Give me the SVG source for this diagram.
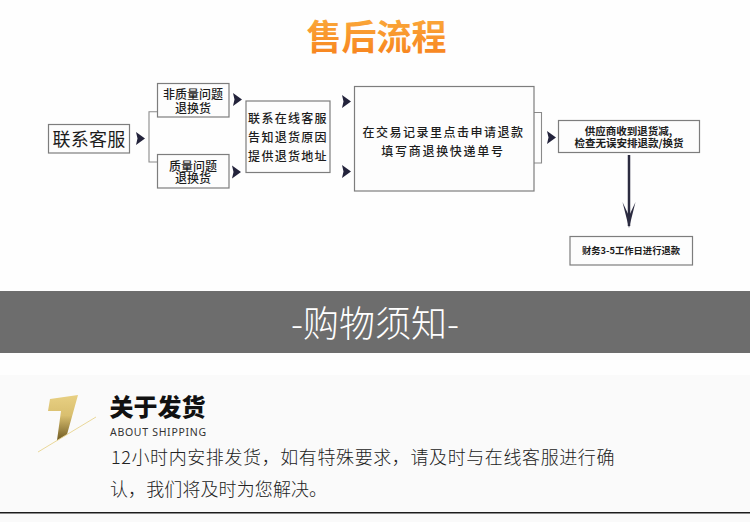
<svg xmlns="http://www.w3.org/2000/svg" width="750" height="522" viewBox="0 0 750 522">
<style>
text{font-family:"Noto Sans CJK SC","Liberation Sans",sans-serif;text-anchor:middle;fill:#1c1c1c}
.box{fill:#fdfdfd;stroke:#7d7d7d;stroke-width:1.2}
.t11{font-size:12px;font-weight:500}
.t10{font-size:10.500px;font-weight:700}
.t9{font-size:9.300px;font-weight:700}
.t12{font-size:12px;font-weight:500;letter-spacing:1.300px}
.para{font-size:18px;font-weight:300;text-anchor:start;fill:#222}
.wire{fill:none;stroke:#8a8a8a;stroke-width:1.1}
.head{fill:#23233b}
</style>
<defs>
<linearGradient id="gold" x1="0" y1="0" x2="0" y2="1"><stop offset="0" stop-color="#e8d083"/><stop offset="0.45" stop-color="#d9bf6f"/><stop offset="1" stop-color="#6f5a22"/></linearGradient>
<linearGradient id="orange" x1="0" y1="0" x2="0" y2="1"><stop offset="0" stop-color="#fbb040"/><stop offset="1" stop-color="#f7801c"/></linearGradient>
<polygon id="tri" points="0,0 9,6.500 0,13 1.500,6.500"/>
</defs>
<rect width="750" height="522" fill="#fefefe"/>
<rect y="291" width="750" height="62" fill="#6d6d6d"/>
<rect y="375" width="750" height="147" fill="#fafafa"/>
<rect y="512" width="750" height="1.500" fill="#1c1c1c"/>
<text x="376.500" y="50" font-size="35" font-weight="700" style="fill:url(#orange)">售后流程</text>
<g id="connectors">
<path class="wire" d="M157 111.700H149V162H157"/>
<path class="wire" d="M534 112.500H541.500V163H534"/>
<use href="#tri" class="head" x="136" y="132"/>
<use href="#tri" class="head" x="233" y="93"/>
<use href="#tri" class="head" x="232" y="165.500"/>
<use href="#tri" class="head" x="342" y="95"/>
<use href="#tri" class="head" x="342" y="165"/>
<use href="#tri" class="head" x="547" y="131"/>
<path d="M629 155V226" stroke="#2b2b40" stroke-width="2.500" fill="none"/>
<path d="M622.500 202L629 228L635.500 202L629 216Z" fill="#2b2b40"/>
</g>
<g id="node-contact"><rect class="box" x="48.500" y="124.500" width="81" height="28.500"/><text x="89" y="145.500" font-size="18px" font-weight="400" letter-spacing="0.300">联系客服</text></g>
<g id="node-nonquality"><rect class="box" x="157.500" y="83.500" width="71.500" height="33.500"/><text class="t11" x="193"><tspan x="193" y="99">非质量问题</tspan><tspan x="193" y="112.500">退换货</tspan></text></g>
<g id="node-quality"><rect class="box" x="157.500" y="154.500" width="71.500" height="33.500"/><text class="t11" x="193"><tspan x="193" y="170.500">质量问题</tspan><tspan x="193" y="183">退换货</tspan></text></g>
<g id="node-service"><rect class="box" x="246" y="101" width="84" height="71.500"/><text class="t12" x="288"><tspan x="288" y="123">联系在线客服</tspan><tspan x="288" y="142">告知退货原因</tspan><tspan x="288" y="161">提供退货地址</tspan></text></g>
<g id="node-apply"><rect class="box" x="354.500" y="86.500" width="179.500" height="104.500"/><text class="t12" style="letter-spacing:1.500px"><tspan x="443.500" y="136.500">在交易记录里点击申请退款</tspan><tspan x="443" y="155.500" style="letter-spacing:1.700px">填写商退换快递单号</tspan></text></g>
<g id="node-supplier"><rect class="box" x="558.500" y="120.500" width="141" height="32"/><text class="t10"><tspan x="628.500" y="135">供应商收到退货减,</tspan><tspan x="629" y="147">检查无误安排退款/换货</tspan></text></g>
<g id="node-finance"><rect class="box" x="570" y="236.500" width="122.500" height="28.500"/><text class="t9" x="631" y="254">财务3-5工作日进行退款</text></g>
<text x="375" y="337" font-size="36px" font-weight="300" style="fill:#fff">-购物须知-</text>
<polygon points="50,399 78,395 67,434.500 57,440.500 61,411 48,411" fill="url(#gold)"/>
<line x1="38" y1="452" x2="96" y2="417" stroke="#e8d48f" stroke-width="0.900"/>
<text x="157.500" y="416" font-size="24px" font-weight="900" style="fill:#111">关于发货</text>
<text x="110" y="436" font-size="10.500px" letter-spacing="0.700" style="fill:#333;text-anchor:start;font-family:'Noto Sans',sans-serif">ABOUT SHIPPING</text>
<text class="para" x="111" y="464" letter-spacing="0.600">12小时内安排发货，如有特殊要求，请及时与在线客服进行确</text>
<text class="para" x="110" y="496" letter-spacing="0.100">认，我们将及时为您解决。</text>
</svg>
